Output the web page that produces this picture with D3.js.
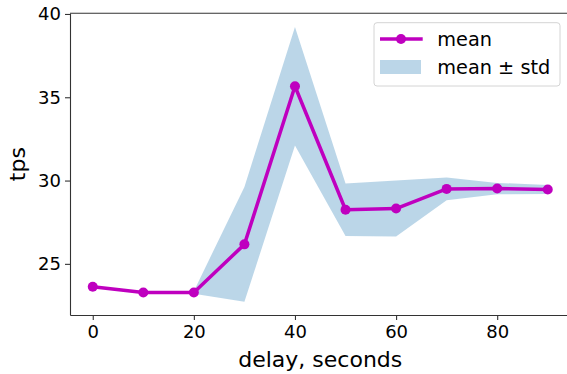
<!DOCTYPE html>
<html>
<head>
<meta charset="utf-8">
<script src="https://cdn.jsdelivr.net/npm/d3@7"></script>
<style>
  html, body { margin: 0; padding: 0; background: #fff; }
  svg { display: block; font-family: 'DejaVu Sans', sans-serif; }
</style>
</head>
<body>
<svg id="chart" width="567" height="374"></svg>
<script>
// data
const delays = [0, 10, 20, 30, 40, 50, 60, 70, 80, 90];
const meanTps = [23.63, 23.28, 23.28, 26.17, 35.66, 28.25, 28.32, 29.5, 29.52, 29.46];
const stdTps = [0.05, 0.06, 0.08, 3.45, 3.56, 1.58, 1.68, 0.68, 0.34, 0.27];
const xTicks = [0, 20, 40, 60, 80];
const yTicks = [25, 30, 35, 40];
const legendLabels = ['mean', 'mean \u00b1 std'];

const width = 567;
const height = 374;
const margin = { top: 13.3, right: -3.5, bottom: 59, left: 70 };
const lineColor = '#bf00bf';
const bandColor = '#1f77b4';

const rows = delays.map((d, i) => ({
  delay: d, mean: meanTps[i], lo: meanTps[i] - stdTps[i], hi: meanTps[i] + stdTps[i],
}));

const x = d3.scaleLinear()
  .domain([-4.5, 94.5])
  .range([margin.left, width - margin.right]);
const y = d3.scaleLinear()
  .domain([21.93, 40.04])
  .range([height - margin.bottom, margin.top]);

const svg = d3.select('#chart');

// std band
svg.append('path')
  .datum(rows)
  .attr('fill', bandColor)
  .attr('fill-opacity', 0.3)
  .attr('d', d3.area()
    .x((d) => x(d.delay))
    .y0((d) => y(d.lo))
    .y1((d) => y(d.hi)));

// mean line + markers
svg.append('path')
  .datum(rows)
  .attr('fill', 'none')
  .attr('stroke', lineColor)
  .attr('stroke-width', 3.5)
  .attr('stroke-linejoin', 'round')
  .attr('d', d3.line().x((d) => x(d.delay)).y((d) => y(d.mean)));

svg.append('g')
  .selectAll('circle')
  .data(rows)
  .join('circle')
  .attr('cx', (d) => x(d.delay))
  .attr('cy', (d) => y(d.mean))
  .attr('r', 5)
  .attr('fill', lineColor);

// axes
const xAxis = (g) => g
  .attr('transform', `translate(0,${height - margin.bottom})`)
  .call(d3.axisBottom(x).tickValues(xTicks).tickSize(5).tickSizeOuter(0).tickPadding(5))
  .call((g) => g.select('.domain').attr('stroke', '#333').attr('stroke-width', 1.1));
const yAxis = (g) => g
  .attr('transform', `translate(${margin.left},0)`)
  .call(d3.axisLeft(y).tickValues(yTicks).tickSize(5).tickSizeOuter(0).tickPadding(4))
  .call((g) => g.select('.domain').attr('stroke', '#333').attr('stroke-width', 1.1));

svg.append('g').call(xAxis);
svg.append('g').call(yAxis);

svg.selectAll('.tick line').attr('stroke', '#333').attr('stroke-width', 1.1);
svg.selectAll('.tick text')
  .attr('font-family', "'DejaVu Sans', sans-serif")
  .attr('font-size', 18)
  .attr('fill', '#000');

// top spine
svg.append('line')
  .attr('x1', margin.left).attr('x2', width)
  .attr('y1', margin.top).attr('y2', margin.top)
  .attr('stroke', '#333').attr('stroke-width', 1.1);

// axis labels
svg.append('text')
  .attr('x', (x(-4.5) + x(94.5)) / 2)
  .attr('y', 367.3)
  .attr('text-anchor', 'middle')
  .attr('font-size', 22)
  .text('delay, seconds');

svg.append('text')
  .attr('transform', `translate(25,${(y.range()[0] + y.range()[1]) / 2}) rotate(-90)`)
  .attr('text-anchor', 'middle')
  .attr('font-size', 22)
  .text('tps');

// legend
const legend = svg.append('g');
legend.append('rect')
  .attr('x', 374).attr('y', 22.7)
  .attr('width', 186).attr('height', 63.3)
  .attr('rx', 3)
  .attr('fill', '#fff').attr('fill-opacity', 0.8)
  .attr('stroke', '#d4d4d4');
legend.append('line')
  .attr('x1', 380).attr('x2', 422.7)
  .attr('y1', 39).attr('y2', 39)
  .attr('stroke', lineColor).attr('stroke-width', 3.5);
legend.append('circle')
  .attr('cx', 401).attr('cy', 39).attr('r', 5)
  .attr('fill', lineColor);
legend.append('rect')
  .attr('x', 380).attr('y', 60)
  .attr('width', 41).attr('height', 14)
  .attr('fill', bandColor).attr('fill-opacity', 0.3);
legend.selectAll('text')
  .data(legendLabels)
  .join('text')
  .attr('x', 437.3)
  .attr('y', (d, i) => 45.5 + i * 28)
  .attr('font-size', 19.3)
  .text((d) => d);
</script>
</body>
</html>
